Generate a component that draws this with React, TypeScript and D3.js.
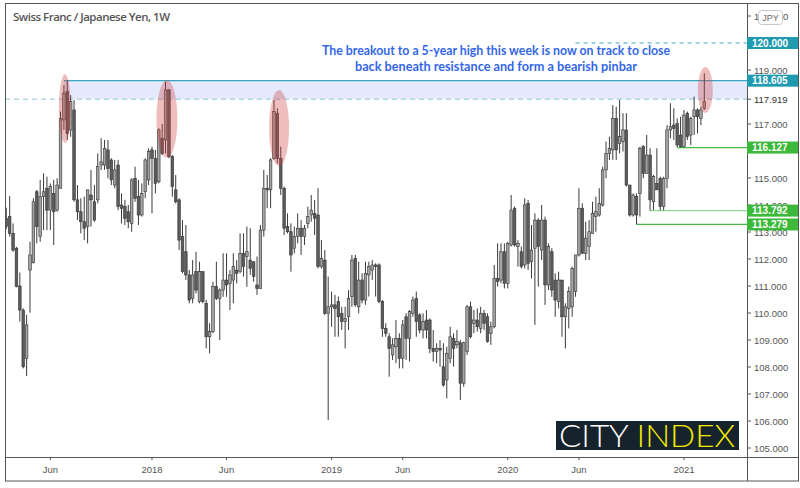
import React from "react";
import * as d3 from "d3";

const startDate = new Date(2017, 2, 6);

const opens = [
  113.51,113.57,112.95,112.40,111.00,110.11,108.32,111.59,111.86,114.49,
  112.83,114.31,114.62,113.81,114.43,113.81,114.62,117.15,118.20,116.78,
  117.52,114.19,113.75,113.38,113.20,114.37,114.12,114.19,115.48,115.48,
  116.04,115.67,114.74,115.48,114.00,113.94,113.75,113.32,114.99,114.31,
  113.63,114.49,114.93,116.04,115.73,114.86,116.47,116.41,118.26,115.79,
  114.56,114.19,112.83,112.27,111.41,110.54,111.53,110.42,111.53,110.36,
  109.12,109.31,110.98,110.54,110.85,111.22,111.10,111.22,111.59,111.53,
  112.21,112.09,111.96,111.90,111.04,110.91,113.07,114.62,114.56,115.73,
  117.40,115.73,114.62,113.20,113.01,112.40,112.83,113.14,112.83,113.32,
  113.63,113.69,113.63,111.72,111.96,109.99,110.23,110.30,110.42,109.99,
  109.68,109.86,110.61,112.02,110.23,111.22,110.48,111.41,111.59,111.78,
  111.78,110.42,109.43,109.12,108.45,108.75,109.06,108.32,109.86,109.06,
  109.99,110.54,109.93,109.37,109.74,109.74,108.69,108.57,108.69,108.01,
  107.52,108.32,109.06,108.82,108.90,107.40,108.57,110.23,109.62,109.74,
  109.43,109.99,109.86,109.25,
  109.49,111.28,111.22,112.27,111.10,112.52,113.88,112.46,112.27,111.78,
  114.06,111.90,112.40,113.44,112.33,113.44,111.04,112.27,111.22,110.42,
  111.22,109.86,110.17,110.23,110.79,112.15,113.88,112.21,112.46,112.95,
  113.57,113.63,114.00,115.30,115.91,116.04,117.21,116.28,116.35,116.78,
  114.74,113.63,114.31,114.43,116.16,115.17,115.85,114.12,114.80,114.99,
  113.94,114.99,116.78,116.96,117.02,116.59,116.16,117.40,116.59,117.27,
  117.52,117.21,117.58,
];
const highs = [
  113.90,114.33,113.32,112.45,111.50,110.17,109.93,112.64,114.25,114.56,
  114.93,115.17,115.05,114.80,114.93,114.99,117.46,118.44,118.61,118.07,
  117.89,114.74,114.25,114.31,114.56,115.30,114.74,115.91,116.47,116.41,
  116.41,115.73,115.67,115.67,114.43,114.19,114.00,114.99,115.42,114.93,
  114.80,115.73,116.10,116.16,116.04,116.84,117.00,118.57,118.30,115.85,
  115.11,114.25,113.44,113.26,111.59,111.96,112.27,111.90,111.53,110.48,
  109.62,111.16,111.90,110.91,112.21,112.21,111.59,112.21,111.96,112.95,
  112.95,113.20,113.14,111.90,112.09,113.26,115.30,115.11,115.73,117.89,
  117.58,116.16,114.68,113.69,113.32,113.20,113.69,113.44,113.26,113.94,
  114.37,114.19,114.62,112.70,112.33,111.35,110.79,110.67,110.61,110.23,
  110.23,110.85,112.15,112.15,111.90,111.47,111.90,111.90,111.96,111.84,
  111.84,110.48,109.62,109.25,109.06,109.74,109.25,109.74,109.99,110.11,
  110.61,110.79,109.99,109.99,110.11,109.80,109.37,108.88,109.00,108.88,
  108.75,109.49,109.25,109.37,109.00,108.94,110.30,110.42,110.11,110.17,
  110.23,110.11,109.99,109.68,
  111.78,112.58,112.58,112.58,112.64,114.37,113.94,112.70,112.46,114.25,
  114.19,113.26,113.69,113.51,114.00,113.57,112.58,112.40,111.47,111.53,
  111.22,110.36,110.98,111.72,112.15,114.62,114.06,113.38,113.44,114.12,
  114.31,114.62,115.42,116.35,116.53,117.70,117.64,117.89,117.40,117.40,
  114.74,114.43,114.43,116.16,116.22,116.59,116.10,115.11,116.10,115.05,
  115.05,116.96,117.77,117.58,117.21,117.27,117.52,117.46,117.27,118.01,
  117.58,117.64,118.88,
];
const lows = [
  113.10,112.83,112.27,110.95,109.68,107.95,107.67,110.01,111.84,112.58,
  112.64,113.07,113.07,113.07,112.52,113.75,114.62,116.78,116.41,116.53,
  114.12,113.44,112.95,112.70,112.58,113.20,113.38,114.06,115.30,115.30,
  114.99,114.74,114.62,113.81,113.32,113.26,113.14,113.01,114.12,113.26,
  113.57,114.25,114.74,113.69,114.43,114.80,115.85,115.91,115.73,114.31,
  114.06,112.33,111.47,111.22,110.36,110.36,110.73,110.36,110.36,108.69,
  108.51,109.25,110.48,109.00,110.60,110.60,110.11,110.36,111.10,111.47,
  111.35,110.97,111.41,111.16,110.67,110.91,112.83,113.88,113.88,115.67,
  115.54,114.37,112.89,112.95,111.53,112.21,112.58,112.15,112.52,113.14,
  113.38,112.89,111.65,111.65,109.93,106.04,109.49,109.12,109.12,109.37,
  108.69,109.37,110.23,110.23,109.99,110.36,110.30,110.61,111.22,110.61,
  110.36,109.12,109.12,107.64,108.26,108.14,107.95,107.95,108.26,108.20,
  109.86,109.12,109.25,109.06,109.06,108.51,108.20,108.14,108.01,107.27,
  106.84,108.14,108.01,108.69,106.78,107.27,108.45,109.06,109.25,109.31,
  109.25,109.37,108.90,108.82,
  109.43,110.98,111.10,110.91,110.91,112.46,112.46,111.72,111.65,111.65,
  111.59,111.28,109.56,110.98,111.96,110.30,110.85,110.60,109.86,110.17,
  109.12,108.69,109.43,109.86,110.60,112.09,112.21,111.96,111.96,112.95,
  113.01,113.57,113.94,114.99,115.67,115.67,115.67,115.91,115.98,114.68,
  113.57,113.57,113.279,113.57,114.99,115.17,113.792,113.81,114.56,113.80,
  113.80,114.62,116.47,116.41,116.127,116.13,116.13,116.41,116.22,116.59,
  116.65,116.96,117.52,
];
const closes = [
  113.20,112.95,112.33,110.98,110.11,108.01,109.56,112.15,114.12,113.20,
  114.31,114.49,113.81,114.68,113.75,114.74,117.21,118.14,116.65,117.83,
  114.19,113.75,113.38,113.14,114.56,114.19,113.44,115.42,115.60,116.10,
  115.36,114.93,115.30,113.94,113.88,113.51,113.38,114.93,114.25,113.63,
  114.43,115.67,115.98,115.73,114.80,116.78,115.91,118.26,115.79,114.68,
  114.12,112.70,111.53,111.41,110.48,111.41,110.85,111.53,110.42,109.12,
  109.31,110.98,110.54,110.85,111.22,111.04,111.41,111.72,111.47,112.21,
  111.72,112.27,111.65,111.35,110.91,113.07,114.62,114.56,115.67,117.46,
  115.73,114.62,113.14,113.01,112.15,112.83,113.14,112.83,113.14,113.57,
  113.81,113.51,111.72,112.02,109.99,110.23,110.30,110.17,109.86,109.68,
  109.80,110.54,111.96,110.30,111.22,110.48,111.47,111.72,111.78,111.72,
  110.42,109.43,109.25,108.69,108.82,109.06,108.32,109.56,109.06,110.05,
  110.48,109.68,109.37,109.68,109.37,108.69,108.57,108.69,108.63,107.33,
  108.51,109.12,108.69,108.94,107.40,108.90,110.23,109.12,109.74,109.49,
  109.99,109.62,108.94,109.49,
  111.28,111.16,112.27,111.10,112.58,113.81,112.52,112.58,111.72,114.00,
  111.84,112.33,113.44,112.46,113.44,111.04,112.46,110.85,110.48,111.22,
  109.86,110.23,110.79,111.65,112.15,113.88,112.21,112.77,113.01,113.69,
  113.75,114.06,115.30,115.91,116.10,117.21,116.04,116.53,116.78,114.74,
  113.63,114.37,113.63,116.10,115.17,115.85,114.19,115.05,114.56,113.94,
  114.99,116.78,116.90,116.84,116.22,116.16,117.33,116.53,117.21,117.52,
  117.27,117.52,117.83,
];

const yTicks = [105,106,107,108,109,110,111,112,113,114,115,117,119,121];
const xTickMonths: [number, number, string][] = [
  [2017,5,"Jun"],[2018,0,"2018"],[2018,5,"Jun"],[2019,0,"2019"],
  [2019,5,"Jun"],[2020,0,"2020"],[2020,5,"Jun"],[2021,0,"2021"],
];

const resistanceHigh = 118.605;
const resistanceLow = 117.919;
const resistanceStart = 17;
const target = 120.0;
const targetStart = 168;
const supports: [number, number, string][] = [
  [116.127, 198, "#46b946"],
  [113.792, 190, "#8fd88f"],
  [113.279, 186, "#46b946"],
];
// index, top price, bottom price, half width px
const highlights: [number, number, number, number][] = [
  [17.3, 118.85, 116.3, 6],
  [47.4, 118.63, 115.74, 10.5],
  [80.5, 118.26, 115.44, 10],
  [206.3, 119.11, 117.41, 7.5],
];
const title = "Swiss Franc / Japanese Yen, 1W";
const note = [
  "The breakout to a 5-year high this week is now on track to close",
  "back beneath resistance and form a bearish pinbar",
];

export default function App() {
  const left = 5, right = 747, top = 4, bottom = 457;
  const x = d3.scaleLinear().domain([-0.38, 218.6]).range([left, right]);
  const y = d3.scaleLinear().domain([105, 120]).range([448, 43]);
  const dates = closes.map((_, i) => d3.timeDay.offset(startDate, 7 * i));
  const xTicks = xTickMonths.map(([yr, m, lab]) => {
    const idx = dates.findIndex((d) => d.getFullYear() === yr && d.getMonth() === m);
    return { idx, lab };
  });
  const axisFont = "'Liberation Sans', Arial, sans-serif";
  const teal = "#1f9ab0";

  const labelBox = (v: number, bg: string, key: string) => (
    <g key={key}>
      <rect x={right} y={y(v) - 6} width={51} height={12} fill={bg} />
      <text x={752} y={y(v) + 3.6} fontSize={10} fontWeight={700} fill="#fff" fontFamily={axisFont}>
        {v.toFixed(3)}
      </text>
    </g>
  );

  return (
    <svg width={800} height={488} style={{ position: "absolute", left: 0, top: 0, background: "#fff" }}>
      <defs>
        <clipPath id="plot">
          <rect x={left} y={top} width={right - left} height={bottom - top} />
        </clipPath>
      </defs>
      <rect x={0} y={0} width={800} height={488} fill="#fff" />

      <g clipPath="url(#plot)">
        <rect
          x={x(resistanceStart)}
          y={y(resistanceHigh)}
          width={right - x(resistanceStart)}
          height={y(resistanceLow) - y(resistanceHigh)}
          fill="#e4e9fc"
        />
        <line x1={left} x2={right} y1={y(resistanceLow)} y2={y(resistanceLow)} stroke="#8cc9d8" strokeWidth={1} strokeDasharray="5,4" />
        <line x1={x(resistanceStart)} x2={right} y1={y(resistanceHigh)} y2={y(resistanceHigh)} stroke="#3aa6c0" strokeWidth={1.3} />
        <line x1={x(targetStart)} x2={right} y1={y(target)} y2={y(target)} stroke="#3aa6c0" strokeWidth={1} strokeDasharray="4,4" />
        {supports.map(([v, i, c]) => (
          <line key={v} x1={x(i)} x2={right} y1={y(v)} y2={y(v)} stroke={c} strokeWidth={1.2} />
        ))}

        {closes.map((c, i) => {
          const o = opens[i];
          const hi = Math.max(highs[i], o, c);
          const lo = Math.min(lows[i], o, c);
          const cx = x(i);
          const up = c >= o;
          const yt = y(Math.max(o, c));
          const h = Math.max(1, Math.abs(y(o) - y(c)));
          return (
            <g key={i}>
              <line x1={cx} x2={cx} y1={y(hi)} y2={y(lo)} stroke="#3a3a3a" strokeWidth={1} />
              <rect x={cx - 1.3} y={yt} width={2.6} height={h} fill={up ? "#a3a3a3" : "#5c5c5c"} stroke="#333" strokeWidth={0.6} />
            </g>
          );
        })}

        {highlights.map(([i, hp, lp, rx], k) => (
          <ellipse key={k} cx={x(i)} cy={(y(hp) + y(lp)) / 2} rx={rx} ry={(y(lp) - y(hp)) / 2} fill="rgba(205,70,70,0.35)" />
        ))}
      </g>

      <text x={13} y={21} fontSize={11.5} fontWeight={600} fill="#555" fontFamily="'Open Sans', sans-serif" textLength={157}>
        {title}
      </text>

      {note.map((t, k) => (
        <text key={k} x={496} y={55 + k * 16} textAnchor="middle" fontSize={12.3} fontWeight={700} fill="#3467e8" fontFamily="Lato, sans-serif"
          textLength={k === 0 ? 348 : 282} lengthAdjust="spacingAndGlyphs">
          {t}
        </text>
      ))}

      <rect x={556} y={421} width={183} height={29} fill="#16222c" />
      <text x={559} y={447} fontSize={31} fontWeight={300} fontFamily="Lato, sans-serif" textLength={176} lengthAdjust="spacingAndGlyphs">
        <tspan fill="#ffffff">CITY </tspan>
        <tspan fill="#f2ea00">INDEX</tspan>
      </text>

      <rect x={5.5} y={3.5} width={793} height={477.5} fill="none" stroke="#555" strokeWidth={1} />
      <line x1={right + 0.5} x2={right + 0.5} y1={3.5} y2={481} stroke="#555" strokeWidth={1} />
      <line x1={5.5} x2={798.5} y1={bottom + 0.5} y2={bottom + 0.5} stroke="#555" strokeWidth={1} />

      {yTicks.map((v) => (
        <g key={v}>
          <line x1={right} x2={right + 4} y1={y(v)} y2={y(v)} stroke="#555" />
          <text x={754} y={y(v) + 3.5} fontSize={9.5} fill="#555" fontFamily={axisFont}>
            {v.toFixed(3)}
          </text>
        </g>
      ))}
      <line x1={right} x2={right + 4} y1={y(resistanceLow)} y2={y(resistanceLow)} stroke="#555" />
      <text x={754} y={y(resistanceLow) + 3.5} fontSize={9.5} fill="#333" fontFamily={axisFont}>
        {resistanceLow.toFixed(3)}
      </text>
      {labelBox(target, teal, "t")}
      {labelBox(resistanceHigh, teal, "r")}
      {supports.map(([v]) => labelBox(v, "#3cb83a", "s" + v))}

      <rect x={758.5} y={10.5} width={24} height={14} rx={3} fill="#fff" stroke="#c8c8c8" />
      <text x={770.5} y={21} textAnchor="middle" fontSize={9} fill="#666" fontFamily={axisFont}>
        JPY
      </text>

      {xTicks.map(({ idx, lab }) => (
        <g key={lab + idx}>
          <line x1={x(idx)} x2={x(idx)} y1={bottom} y2={bottom + 3} stroke="#555" />
          <text x={x(idx)} y={473} textAnchor="middle" fontSize={9.5} fill="#555" fontFamily={axisFont}>
            {lab}
          </text>
        </g>
      ))}
    </svg>
  );
}
